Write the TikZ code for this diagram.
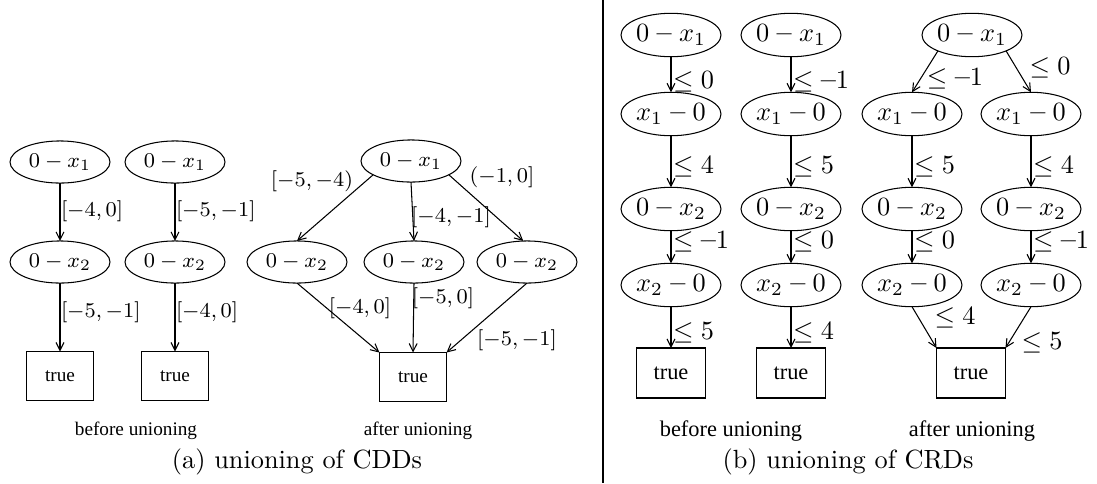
\documentclass[tikz,border=0pt]{standalone}
\usepackage{fontspec}
\newfontfamily\tms{Liberation Serif}
\usetikzlibrary{arrows.meta,shapes.geometric}
% bold dash used in the CRD constraints
\newcommand{\bdash}{\;\mbox{\bfseries --}\;}
\newcommand{\udash}{\mathord{\mbox{\bfseries --}}}
\begin{document}
\begin{tikzpicture}[x=0.38pt,y=-0.38pt,
  every node/.style={inner sep=0pt,outer sep=0pt},
  ella/.style={ellipse,draw,line width=0.4pt,minimum width=38pt,minimum height=16pt,
    font=\fontsize{8.4}{10}\selectfont},
  ellb/.style={ellipse,draw,line width=0.4pt,minimum width=38pt,minimum height=16.5pt,
    font=\fontsize{10}{12}\selectfont},
  boxa/.style={rectangle,draw,line width=0.4pt,minimum width=25.5pt,minimum height=18.6pt,
    font=\tms\fontsize{7.3}{8.5}\selectfont},
  boxb/.style={rectangle,draw,line width=0.4pt,minimum width=26.2pt,minimum height=19pt,
    font=\tms\fontsize{8.5}{10}\selectfont},
  laba/.style={font=\fontsize{8.2}{9.8}\selectfont},
  labb/.style={font=\fontsize{10}{12}\selectfont},
  subcap/.style={font=\tms\fontsize{7.3}{8.5}\selectfont},
  subcapb/.style={font=\tms\fontsize{8.5}{10}\selectfont},
  captext/.style={font=\fontsize{10}{12}\selectfont},
  arr/.style={draw,line width=0.4pt,-{Straight Barb[length=3pt,width=3pt]}}]
\useasboundingbox (0,0) rectangle (1097,483);

% ---------- (a) CDDs, before unioning ----------
\node[ella] (a1) at (60,162) {$0 - x_1$};
\node[ella] (a2) at (175,162) {$0 - x_1$};
\node[ella] (a3) at (60,262) {$0 - x_2$};
\node[ella] (a4) at (175,262) {$0 - x_2$};
\node[boxa] (a5) at (60,376) {true};
\node[boxa] (a6) at (175,376) {true};
\draw[arr] (a1) -- (a3);
\draw[arr] (a2) -- (a4);
\draw[arr] (a3) -- (a5);
\draw[arr] (a4) -- (a6);
\node[laba,anchor=west] (la1) at (61,211) {$[-4,0]$};
\node[laba,anchor=west] (la2) at (176,211) {$[-5,-1]$};
\node[laba,anchor=west] (la3) at (61,312) {$[-5,-1]$};
\node[laba,anchor=west] (la4) at (176,312) {$[-4,0]$};
\node[subcap] (sa1) at (136,431) {before unioning};

% ---------- (a) CDDs, after unioning ----------
\node[ella] (c0) at (411,161) {$0 - x_1$};
\node[ella] (c1) at (297,262) {$0 - x_2$};
\node[ella] (c2) at (414,262) {$0 - x_2$};
\node[ella] (c3) at (527,262) {$0 - x_2$};
\node[boxa] (c4) at (413,377) {true};
\draw[arr] (c0.200) -- (c1.north);
\draw[arr] (c0.south) -- (c2.north);
\draw[arr] (c0.-20) -- (c3.100);
\draw[arr] (c1.south) -- (c4.north west);
\draw[arr] (c2.south) -- (c4.north);
\draw[arr] (c3.south) -- (c4.north east);
\node[laba] (lc1) at (312,181) {$[-5,-4)$};
\node[laba] (lc2) at (451,217) {$[-4,-1]$};
\node[laba] (lc3) at (502,177) {$(-1,0]$};
\node[laba] (lc4) at (360,308) {$[-4,0]$};
\node[laba] (lc5) at (443,298) {$[-5,0]$};
\node[laba] (lc6) at (517,340) {$[-5,-1]$};
\node[subcap] (sa2) at (418,431) {after unioning};

\node[captext] (capa) at (297,462) {(a) unioning of CDDs};

% separator between the two panels
\draw[line width=0.8pt] (603,0) -- (603,483);

% ---------- (b) CRDs, before unioning ----------
\node[ellb] (b1) at (671,35) {$0 \bdash x_1$};
\node[ellb] (b2) at (671,114) {$x_1 \bdash 0$};
\node[ellb] (b3) at (671,209) {$0 \bdash x_2$};
\node[ellb] (b4) at (671,285) {$x_2 \bdash 0$};
\node[boxb] (b5) at (671,373) {true};
\node[ellb] (d1) at (791,35) {$0 \bdash x_1$};
\node[ellb] (d2) at (791,114) {$x_1 \bdash 0$};
\node[ellb] (d3) at (791,209) {$0 \bdash x_2$};
\node[ellb] (d4) at (791,285) {$x_2 \bdash 0$};
\node[boxb] (d5) at (791,373) {true};
\draw[arr] (b1) -- (b2);
\draw[arr] (b2) -- (b3);
\draw[arr] (b3) -- (b4);
\draw[arr] (b4) -- (b5);
\draw[arr] (d1) -- (d2);
\draw[arr] (d2) -- (d3);
\draw[arr] (d3) -- (d4);
\draw[arr] (d4) -- (d5);
\node[labb,anchor=west] (lb1) at (673,82) {$\leq 0$};
\node[labb,anchor=west] (lb2) at (673,167) {$\leq 4$};
\node[labb,anchor=west] (lb3) at (673,242) {$\leq \udash 1$};
\node[labb,anchor=west] (lb4) at (673,333) {$\leq 5$};
\node[labb,anchor=west] (ld1) at (793,82) {$\leq \udash 1$};
\node[labb,anchor=west] (ld2) at (793,167) {$\leq 5$};
\node[labb,anchor=west] (ld3) at (793,242) {$\leq 0$};
\node[labb,anchor=west] (ld4) at (793,333) {$\leq 4$};
\node[subcapb] (sb1) at (731,431) {before unioning};

% ---------- (b) CRDs, after unioning ----------
\node[ellb] (e0) at (972,35) {$0 \bdash x_1$};
\node[ellb] (f1) at (912,114) {$x_1 \bdash 0$};
\node[ellb] (f2) at (1031,114) {$x_1 \bdash 0$};
\node[ellb] (g1) at (912,209) {$0 \bdash x_2$};
\node[ellb] (g2) at (1031,209) {$0 \bdash x_2$};
\node[ellb] (h1) at (912,285) {$x_2 \bdash 0$};
\node[ellb] (h2) at (1031,285) {$x_2 \bdash 0$};
\node[boxb] (t6) at (971,373) {true};
\draw[arr] (e0.205) -- (f1.north);
\draw[arr] (e0.-25) -- (f2.north);
\draw[arr] (f1) -- (g1);
\draw[arr] (f2) -- (g2);
\draw[arr] (g1) -- (h1);
\draw[arr] (g2) -- (h2);
\draw[arr] (h1.south) -- (t6.north west);
\draw[arr] (h2.south) -- (t6.north east);
\node[labb] (le1) at (955,79) {$\leq \udash 1$};
\node[labb] (le2) at (1050,68) {$\leq 0$};
\node[labb,anchor=west] (lf1) at (914,167) {$\leq 5$};
\node[labb,anchor=west] (lf2) at (1033,167) {$\leq 4$};
\node[labb,anchor=west] (lg1) at (914,242) {$\leq 0$};
\node[labb,anchor=west] (lg2) at (1033,242) {$\leq \udash 1$};
\node[labb] (lh1) at (955,318) {$\leq 4$};
\node[labb] (lh2) at (1042,343) {$\leq 5$};
\node[subcapb] (sb2) at (972,431) {after unioning};

\node[captext] (capb) at (848,462) {(b) unioning of CRDs};
\end{tikzpicture}
\end{document}
